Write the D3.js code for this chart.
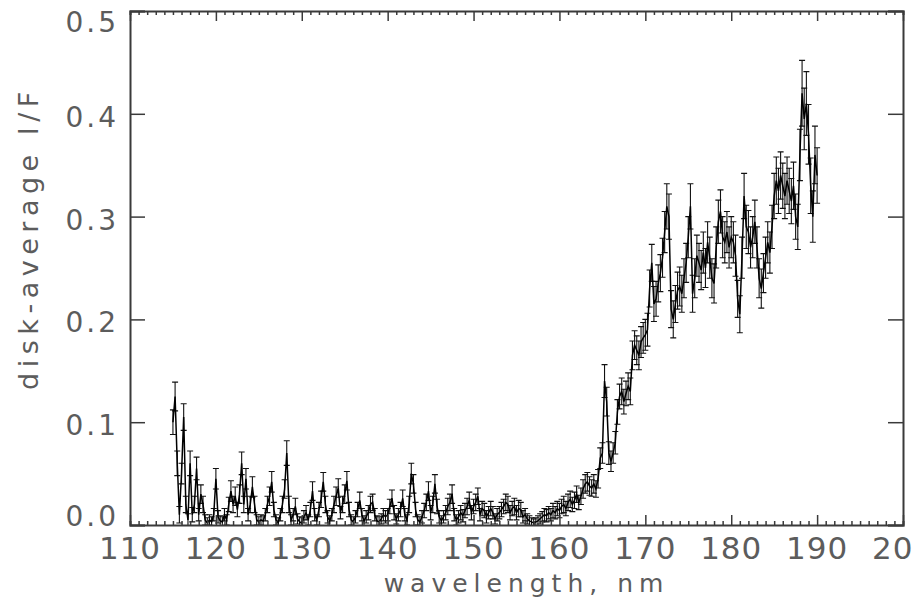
<!DOCTYPE html>
<html>
<head>
<meta charset="utf-8">
<script src="https://cdn.jsdelivr.net/npm/d3@7"></script>
<style>
  body { margin: 0; background: #fff; overflow: hidden; }
  text { font-family: "DejaVu Sans", sans-serif; fill: #5c5c5c; }
</style>
</head>
<body>
<div id="container"></div>
<script>
/* DATA: disk-average I/F sampled every 0.25 nm from 115 to 190 nm */
const wlStart = 115, wlStep = 0.25

const iof = [
  // 115 - 119.75
  0.100, 0.125, 0.060, 0.010, 0.050, 0.105, 0.020, 0.005, 0.060, 0.010, 0.020, 0.055, 0.010, 0.030, 0.020, 0.005, 0.002, 0.005, 0.003, 0.010,
  // 120
  0.045, 0.008, 0.004, 0.003, 0.010, 0.005, 0.020, 0.033, 0.020, 0.028, 0.015, 0.030, 0.060, 0.020, 0.045, 0.010, 0.020, 0.037, 0.020, 0.005,
  // 125
  0.003, 0.005, 0.004, 0.010, 0.020, 0.028, 0.042, 0.015, 0.005, 0.002, 0.010, 0.020, 0.035, 0.070, 0.020, 0.005, 0.010, 0.018, 0.006, 0.003,
  // 130
  0.002, 0.008, 0.012, 0.005, 0.015, 0.033, 0.010, 0.005, 0.015, 0.025, 0.042, 0.020, 0.008, 0.004, 0.010, 0.020, 0.028, 0.036, 0.012, 0.020,
  // 135
  0.030, 0.043, 0.015, 0.005, 0.003, 0.008, 0.015, 0.024, 0.010, 0.004, 0.008, 0.012, 0.020, 0.022, 0.010, 0.004, 0.003, 0.006, 0.010, 0.008,
  // 140
  0.010, 0.018, 0.026, 0.012, 0.006, 0.010, 0.015, 0.026, 0.010, 0.005, 0.020, 0.050, 0.040, 0.015, 0.005, 0.003, 0.008, 0.014, 0.022, 0.033,
  // 145
  0.012, 0.020, 0.040, 0.018, 0.008, 0.004, 0.008, 0.012, 0.018, 0.022, 0.030, 0.010, 0.005, 0.008, 0.012, 0.009, 0.014, 0.018, 0.024, 0.012,
  // 150
  0.018, 0.022, 0.028, 0.010, 0.016, 0.014, 0.008, 0.012, 0.016, 0.012, 0.006, 0.010, 0.012, 0.015, 0.018, 0.022, 0.020, 0.012, 0.016, 0.018,
  // 155
  0.012, 0.016, 0.015, 0.008, 0.010, 0.006, 0.004, 0.003, 0.002, 0.003, 0.004, 0.006, 0.008, 0.010, 0.009, 0.012, 0.010, 0.014, 0.012, 0.016,
  // 160
  0.014, 0.018, 0.020, 0.016, 0.022, 0.025, 0.020, 0.024, 0.030, 0.022, 0.028, 0.035, 0.040, 0.042, 0.038, 0.036, 0.040, 0.035, 0.045, 0.065,
  // 165
  0.070, 0.140, 0.120, 0.070, 0.062, 0.070, 0.080, 0.110, 0.125, 0.130, 0.120, 0.128, 0.135, 0.130, 0.165, 0.175, 0.170, 0.165, 0.178, 0.182,
  // 170
  0.185, 0.190, 0.230, 0.255, 0.215, 0.220, 0.235, 0.245, 0.260, 0.285, 0.310, 0.300, 0.210, 0.200, 0.215, 0.228, 0.232, 0.225, 0.240, 0.255,
  // 175
  0.280, 0.310, 0.225, 0.240, 0.262, 0.255, 0.248, 0.265, 0.250, 0.275, 0.260, 0.240, 0.235, 0.270, 0.295, 0.305, 0.280, 0.275, 0.285, 0.270,
  // 180
  0.280, 0.275, 0.262, 0.220, 0.205, 0.260, 0.320, 0.290, 0.285, 0.270, 0.280, 0.295, 0.270, 0.240, 0.230, 0.245, 0.260, 0.275, 0.265, 0.290,
  // 185
  0.320, 0.335, 0.325, 0.340, 0.330, 0.320, 0.335, 0.325, 0.315, 0.330, 0.300, 0.290, 0.360, 0.420, 0.395, 0.410, 0.380, 0.330, 0.300, 0.360,
  // 190
  0.340
]

const iofErr = [
  0.012, 0.014, 0.012, 0.008, 0.010, 0.013, 0.008, 0.006, 0.012, 0.007, 0.008, 0.011, 0.006, 0.009, 0.008, 0.005, 0.005, 0.005, 0.005, 0.006,
  0.010, 0.006, 0.005, 0.005, 0.006, 0.005, 0.007, 0.010, 0.008, 0.009, 0.007, 0.009, 0.011, 0.008, 0.010, 0.006, 0.008, 0.010, 0.008, 0.005,
  0.005, 0.005, 0.005, 0.006, 0.008, 0.009, 0.010, 0.007, 0.005, 0.005, 0.006, 0.008, 0.009, 0.012, 0.008, 0.005, 0.006, 0.008, 0.005, 0.005,
  0.005, 0.006, 0.007, 0.005, 0.007, 0.009, 0.006, 0.005, 0.007, 0.008, 0.009, 0.008, 0.006, 0.005, 0.006, 0.008, 0.009, 0.009, 0.006, 0.008,
  0.009, 0.009, 0.007, 0.005, 0.005, 0.006, 0.007, 0.008, 0.006, 0.005, 0.006, 0.007, 0.008, 0.008, 0.006, 0.005, 0.005, 0.005, 0.006, 0.006,
  0.006, 0.007, 0.008, 0.007, 0.005, 0.006, 0.007, 0.008, 0.006, 0.005, 0.008, 0.010, 0.009, 0.007, 0.005, 0.005, 0.006, 0.007, 0.008, 0.009,
  0.007, 0.008, 0.009, 0.007, 0.006, 0.005, 0.006, 0.007, 0.008, 0.008, 0.009, 0.006, 0.005, 0.006, 0.007, 0.006, 0.007, 0.008, 0.008, 0.007,
  0.007, 0.008, 0.008, 0.006, 0.007, 0.007, 0.006, 0.006, 0.007, 0.006, 0.005, 0.006, 0.006, 0.007, 0.007, 0.008, 0.008, 0.007, 0.007, 0.008,
  0.007, 0.008, 0.007, 0.006, 0.006, 0.005, 0.005, 0.004, 0.004, 0.004, 0.005, 0.005, 0.005, 0.006, 0.006, 0.006, 0.006, 0.007, 0.006, 0.007,
  0.007, 0.007, 0.008, 0.007, 0.008, 0.008, 0.007, 0.008, 0.008, 0.007, 0.008, 0.009, 0.009, 0.009, 0.009, 0.008, 0.009, 0.008, 0.009, 0.010,
  0.010, 0.016, 0.014, 0.011, 0.010, 0.010, 0.011, 0.012, 0.012, 0.013, 0.012, 0.012, 0.013, 0.013, 0.014, 0.014, 0.014, 0.014, 0.015, 0.015,
  0.015, 0.016, 0.018, 0.018, 0.017, 0.017, 0.018, 0.018, 0.019, 0.020, 0.022, 0.022, 0.018, 0.018, 0.018, 0.018, 0.019, 0.018, 0.019, 0.019,
  0.020, 0.022, 0.018, 0.019, 0.020, 0.019, 0.019, 0.020, 0.019, 0.020, 0.020, 0.019, 0.019, 0.020, 0.021, 0.021, 0.020, 0.020, 0.020, 0.020,
  0.020, 0.020, 0.020, 0.018, 0.018, 0.020, 0.022, 0.021, 0.021, 0.020, 0.020, 0.021, 0.020, 0.019, 0.019, 0.019, 0.020, 0.020, 0.020, 0.021,
  0.022, 0.023, 0.022, 0.023, 0.022, 0.022, 0.023, 0.022, 0.022, 0.023, 0.022, 0.022, 0.025, 0.032, 0.030, 0.031, 0.029, 0.027, 0.025, 0.028,
  0.027
]

const xTicks = [110, 120, 130, 140, 150, 160, 170, 180, 190, 200]
const yTicks = [0.0, 0.1, 0.2, 0.3, 0.4, 0.5]

/* CONSTANTS */
const width = 913, height = 610
const margin = { top: 11, right: 10, bottom: 85, left: 130 }
const axisColor = "#3a3a3a"

const data = iof.map((v, i) => ({ wl: wlStart + i * wlStep, v: v, e: iofErr[i] }))

const svg = d3.select("#container")
  .append("svg")
  .attr("width", width)
  .attr("height", height)

const xScale = d3.scaleLinear()
  .domain([110, 200])
  .range([margin.left, width - margin.right])

const yScale = d3.scaleLinear()
  .domain([0, 0.5])
  .range([height - margin.bottom, margin.top])

const x0 = xScale.range()[0], x1 = xScale.range()[1]
const y0 = yScale.range()[0], y1 = yScale.range()[1]

svg.append("clipPath").attr("id", "plotclip")
  .append("rect")
  .attr("x", x0).attr("y", y1)
  .attr("width", x1 - x0).attr("height", y0 - y1)

const plot = svg.append("g").attr("clip-path", "url(#plotclip)")

// error bars
const capW = 3
const bars = plot.append("g")
  .attr("stroke", "#111")
  .attr("stroke-width", 1.1)
  .attr("fill", "none")

bars.selectAll("path.err")
  .data(data)
  .join("path")
  .attr("class", "err")
  .attr("d", d => {
    const x = xScale(d.wl), ylo = yScale(d.v - d.e), yhi = yScale(d.v + d.e)
    return `M${x},${ylo}V${yhi}M${x - capW},${yhi}H${x + capW}M${x - capW},${ylo}H${x + capW}`
  })

// the spectrum itself
const line = d3.line()
  .x(d => xScale(d.wl))
  .y(d => yScale(d.v))

plot.append("path")
  .datum(data)
  .attr("fill", "none")
  .attr("stroke", "#000")
  .attr("stroke-width", 1.5)
  .attr("d", line)

/* AXES (box with inward ticks) */
const xAxisBottom = d3.axisBottom(xScale)
  .tickValues(d3.range(110, 201, 1))
  .tickSize(-4)
  .tickFormat("")
svg.append("g")
  .attr("transform", `translate(0,${y0})`)
  .call(xAxisBottom)
  .call(g => g.selectAll(".tick line").filter(d => d % 10 === 0).attr("y2", -10))

const xAxisTop = d3.axisTop(xScale)
  .tickValues(d3.range(110, 201, 1))
  .tickSize(-4)
  .tickFormat("")
svg.append("g")
  .attr("transform", `translate(0,${y1})`)
  .call(xAxisTop)
  .call(g => g.selectAll(".tick line").filter(d => d % 10 === 0).attr("y2", 10))

const yAxisLeft = d3.axisLeft(yScale)
  .tickValues(yTicks)
  .tickSize(-15)
  .tickFormat("")
svg.append("g")
  .attr("transform", `translate(${x0},0)`)
  .call(yAxisLeft)

const yAxisRight = d3.axisRight(yScale)
  .tickValues(yTicks)
  .tickSize(-15)
  .tickFormat("")
svg.append("g")
  .attr("transform", `translate(${x1},0)`)
  .call(yAxisRight)

svg.selectAll(".domain").attr("stroke", axisColor).attr("stroke-width", 2)
svg.selectAll(".tick line").attr("stroke", axisColor).attr("stroke-width", 1.5)

// tick labels
svg.append("g").selectAll("text")
  .data(xTicks)
  .join("text")
  .attr("x", d => xScale(d))
  .attr("y", y0 + 34)
  .attr("text-anchor", "middle")
  .attr("font-size", "31px")
  .attr("letter-spacing", "1px")
  .text(d => d)

// end labels are nudged inside the frame, as in the original
const yLabelShift = d => d === 0 ? -9 : d === 0.5 ? 11 : 3
svg.append("g").selectAll("text")
  .data(yTicks)
  .join("text")
  .attr("x", x0 - 11)
  .attr("y", d => yScale(d) + yLabelShift(d) + 10)
  .attr("text-anchor", "end")
  .attr("font-size", "28px")
  .attr("letter-spacing", "3px")
  .text(d => d3.format(".1f")(d))

// axis titles
svg.append("text")
  .attr("x", (x0 + x1) / 2 + 10)
  .attr("y", y0 + 67)
  .attr("text-anchor", "middle")
  .attr("font-size", "25px")
  .attr("letter-spacing", "6px")
  .text("wavelength, nm")

svg.append("text")
  .attr("transform", `translate(38,238) rotate(-90)`)
  .attr("text-anchor", "middle")
  .attr("font-size", "27px")
  .attr("letter-spacing", "5.5px")
  .text("disk-average I/F")
</script>
</body>
</html>
